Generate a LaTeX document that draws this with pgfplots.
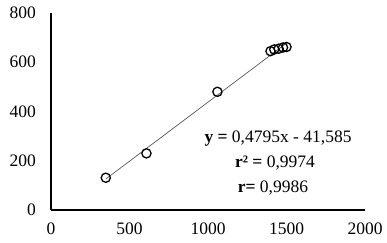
\documentclass[border=0pt]{standalone}
\usepackage{pgfplots}
\pgfplotsset{compat=1.18}
\usepackage{fontspec}
\setmainfont{Liberation Serif}
\begin{document}
\fontsize{17.5}{20}\selectfont
\begin{tikzpicture}
\begin{axis}[
  scale only axis, width=314pt, height=197pt,
  xmin=0, xmax=2000, ymin=0, ymax=800,
  xtick={0,500,1000,1500,2000}, ytick={0,200,400,600,800},
  axis x line=bottom, axis y line=left,
  axis line style={line width=1.5pt, -},
  major tick length=0pt,
  /pgf/number format/assume math mode=true,
  /pgf/number format/1000 sep={},
  tick label style={font=\fontsize{17.5}{20}\selectfont},
  yticklabel style={xshift=-9pt},
  xticklabel style={yshift=-7pt},
  clip=false,
]
\addplot[gray!70!black, line width=0.7pt, no marks] coordinates {(349,125.8) (1503,679.1)};
\addplot[only marks, mark=o, mark size=4.6pt, mark options={line width=1.3pt, black}] coordinates {
(349,131) (608,230) (1060,480) (1398,645) (1422,652) (1450,655) (1478,660) (1500,662)
};
\node[font=\fontsize{17.5}{20}\selectfont] at (axis cs:1446,292) {\textbf{y =} 0,4795x - 41,585};
\node[font=\fontsize{17.5}{20}\selectfont] at (axis cs:1427,191) {\textbf{r² =} 0,9974};
\node[font=\fontsize{17.5}{20}\selectfont] at (axis cs:1414,89) {\textbf{r=} 0,9986};
\end{axis}
\pgfresetboundingbox
\path[use as bounding box] (-51pt,-32pt) rectangle (336pt,210pt);
\end{tikzpicture}
\end{document}
